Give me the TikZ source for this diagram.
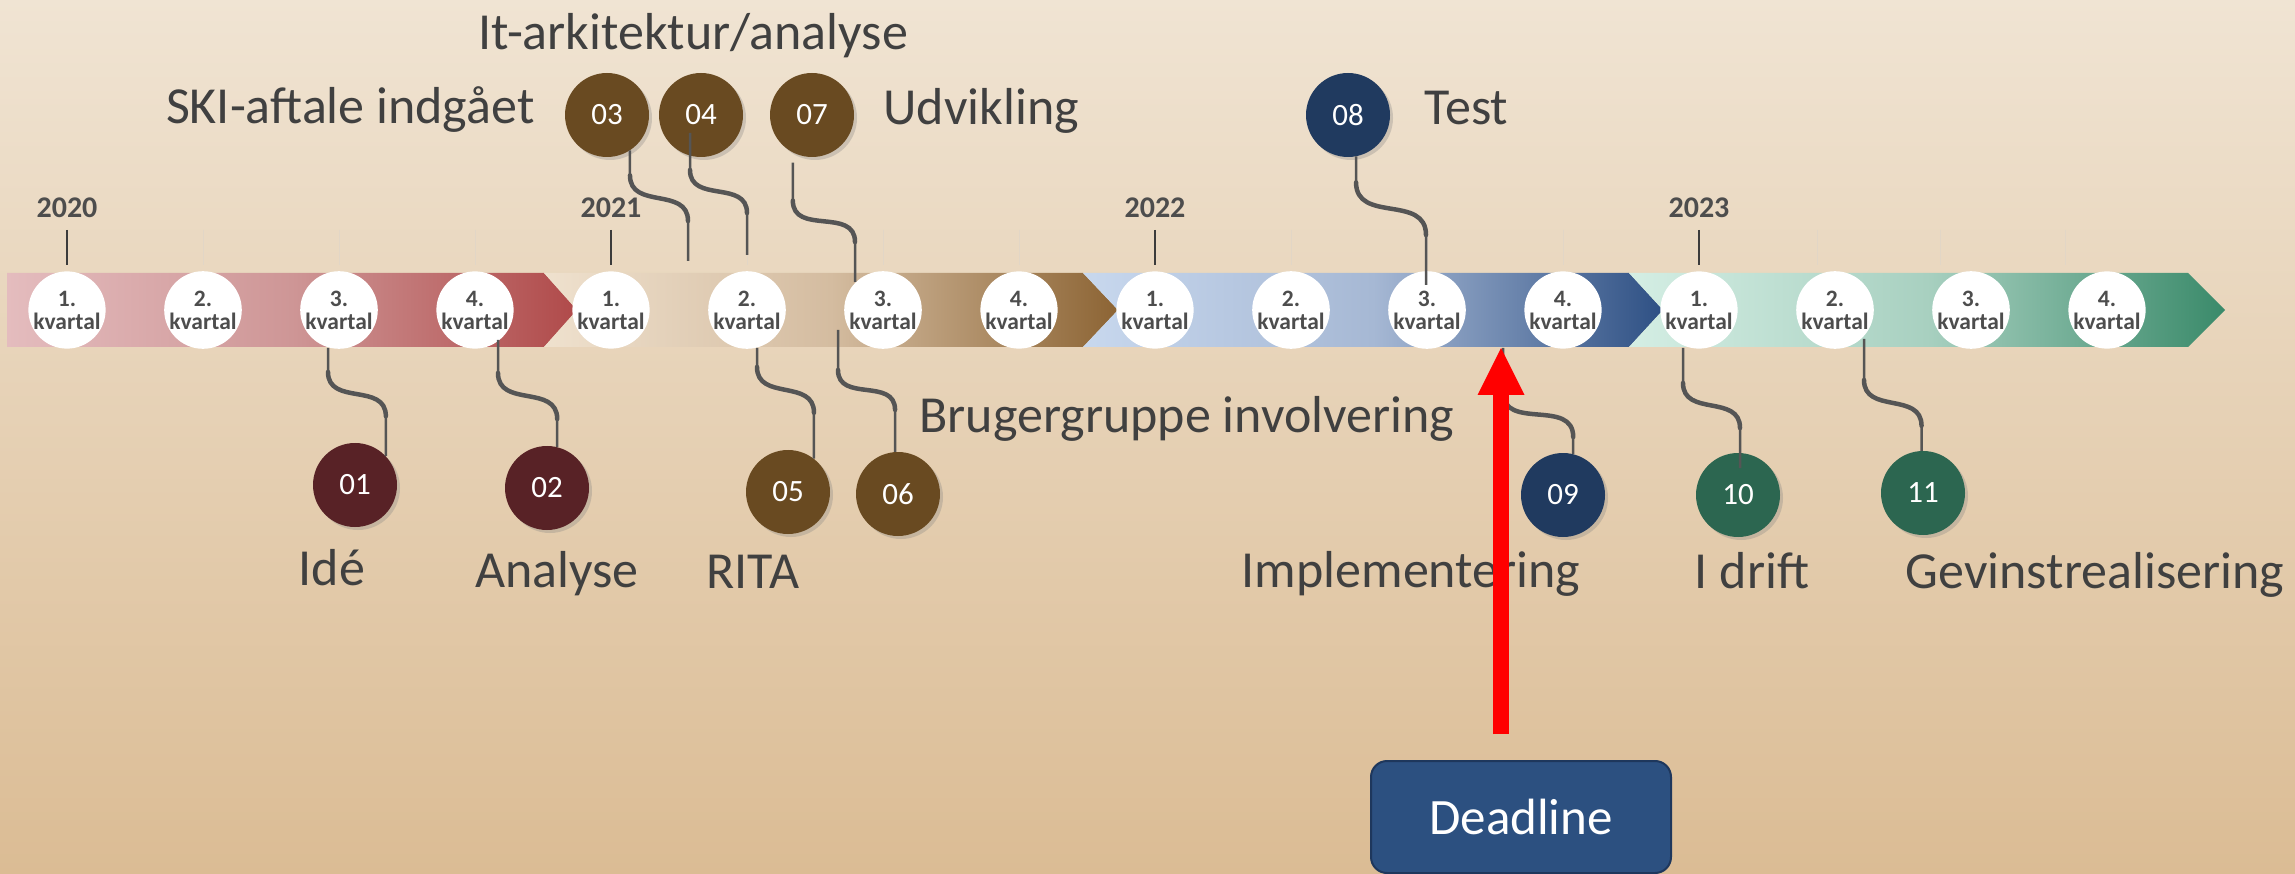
\documentclass[tikz,border=0pt]{standalone}
\usepackage{fontspec}
\setmainfont{Carlito}
\usetikzlibrary{positioning, shadows, arrows.meta}

\definecolor{bgtop}{RGB}{240,228,211}
\definecolor{bgbot}{RGB}{219,188,148}
\definecolor{rosel}{RGB}{228,188,190}
\definecolor{rosem}{RGB}{206,150,150}
\definecolor{roser}{RGB}{176,74,74}
\definecolor{creml}{RGB}{239,225,206}
\definecolor{cremm}{RGB}{212,188,160}
\definecolor{cremr}{RGB}{140,100,52}
\definecolor{bluel}{RGB}{200,216,238}
\definecolor{bluem}{RGB}{166,184,212}
\definecolor{bluer}{RGB}{46,80,132}
\definecolor{mintl}{RGB}{212,238,228}
\definecolor{mintm}{RGB}{168,208,192}
\definecolor{mintr}{RGB}{58,138,106}
\definecolor{maroon}{RGB}{88,34,38}
\definecolor{umber}{RGB}{105,74,33}
\definecolor{navy}{RGB}{32,58,95}
\definecolor{pine}{RGB}{44,102,80}
\definecolor{qgray}{RGB}{77,77,77}
\definecolor{lgray}{RGB}{64,64,64}
\definecolor{sgray}{RGB}{85,85,85}
\definecolor{tgray}{RGB}{60,60,60}
\definecolor{ftick}{RGB}{226,214,198}
\definecolor{dlblue}{RGB}{44,80,128}
\definecolor{dlrim}{RGB}{30,55,92}

\begin{document}
\begin{tikzpicture}[x=1pt, y=1pt, node distance=136pt,
  kvartal/.style={circle, fill=white, minimum size=72pt, inner sep=0pt, align=center, text=qgray, font=\fontsize{23.5}{23}\selectfont\bfseries},
  year/.style={text=qgray, font=\fontsize{30}{32}\selectfont\bfseries},
  milestone/.style={circle, minimum size=84pt, inner sep=0pt, text=white, font=\fontsize{31}{33}\selectfont, drop shadow={shadow xshift=3pt, shadow yshift=-3pt, opacity=.3}},
  phase/.style={text=lgray, font=\fontsize{52}{56}\selectfont},
  stem/.style={draw=sgray, line width=2.5pt},
  wiggle/.style={draw=sgray, line width=4.5pt, line cap=round},
  sbend/.style={out=-90, in=90, looseness=1.2},
  yeartick/.style={draw=tgray, line width=2.5pt},
  faint/.style={draw=ftick, line width=1pt},
  alarm/.style={draw=red, line width=16pt, -{Triangle[width=47pt, length=47pt, line width=0pt]}},
  deadline/.style={rectangle, rounded corners=16pt, fill=dlblue, draw=dlrim, line width=2pt, minimum width=300pt, minimum height=112pt, text=white, font=\fontsize{51}{55}\selectfont}]
  \useasboundingbox (0,0) rectangle (2295,-874);
  \shade[top color=bgtop, bottom color=bgbot] (0,0) rectangle (2295,-874);

  % the four years as arrows
  \shade[left color=rosel, right color=roser, middle color=rosem] (7,-273) -- (544,-273) -- (577,-310) -- (544,-347) -- (7,-347) -- cycle;
  \shade[left color=creml, right color=cremr, middle color=cremm] (544,-273) -- (1083,-273) -- (1118,-310) -- (1083,-347) -- (544,-347) -- (577,-310) -- cycle;
  \shade[left color=bluel, right color=bluer, middle color=bluem] (1083,-273) -- (1629,-273) -- (1663,-310) -- (1629,-347) -- (1083,-347) -- (1118,-310) -- cycle;
  \shade[left color=mintl, right color=mintr, middle color=mintm] (1629,-273) -- (2188,-273) -- (2225,-310) -- (2188,-347) -- (1629,-347) -- (1663,-310) -- cycle;

  \node[kvartal] (k1) at (67,-310) {1.\\kvartal};
  \node[kvartal] (k2) [right of=k1] {2.\\kvartal};
  \node[kvartal] (k3) [right of=k2] {3.\\kvartal};
  \node[kvartal] (k4) [right of=k3] {4.\\kvartal};
  \node[kvartal] (k5) [right of=k4] {1.\\kvartal};
  \node[kvartal] (k6) [right of=k5] {2.\\kvartal};
  \node[kvartal] (k7) [right of=k6] {3.\\kvartal};
  \node[kvartal] (k8) [right of=k7] {4.\\kvartal};
  \node[kvartal] (k9) [right of=k8] {1.\\kvartal};
  \node[kvartal] (k10) [right of=k9] {2.\\kvartal};
  \node[kvartal] (k11) [right of=k10] {3.\\kvartal};
  \node[kvartal] (k12) [right of=k11] {4.\\kvartal};
  \node[kvartal] (k13) [right of=k12] {1.\\kvartal};
  \node[kvartal] (k14) [right of=k13] {2.\\kvartal};
  \node[kvartal] (k15) [right of=k14] {3.\\kvartal};
  \node[kvartal] (k16) [right of=k15] {4.\\kvartal};

  \node[year] (y20) at (k1 |- 0,-208) {2020};
  \node[year] (y21) at (k5 |- 0,-208) {2021};
  \node[year] (y22) at (k9 |- 0,-208) {2022};
  \node[year] (y23) at (k13 |- 0,-208) {2023};
  \draw[yeartick] (k1 |- 0,-230) -- (k1 |- 0,-265) (k5 |- 0,-230) -- (k5 |- 0,-265)
    (k9 |- 0,-230) -- (k9 |- 0,-265) (k13 |- 0,-230) -- (k13 |- 0,-265);
  \draw[faint] (k2 |- 0,-230) -- (k2 |- 0,-265) (k3 |- 0,-230) -- (k3 |- 0,-265)
    (k4 |- 0,-230) -- (k4 |- 0,-265) (k6 |- 0,-230) -- (k6 |- 0,-265)
    (k7 |- 0,-230) -- (k7 |- 0,-265) (k8 |- 0,-230) -- (k8 |- 0,-265)
    (k10 |- 0,-230) -- (k10 |- 0,-265) (k11 |- 0,-230) -- (k11 |- 0,-265)
    (k12 |- 0,-230) -- (k12 |- 0,-265) (1817,-230) -- (1817,-265)
    (1940,-230) -- (1940,-265) (2065,-230) -- (2065,-265);

  % milestones
  \node[milestone, fill=maroon] (m01) at (355,-485) {01};
  \node[milestone, fill=maroon] (m02) at (547,-488) {02};
  \node[milestone, fill=umber] (m03) at (607,-115) {03};
  \node[milestone, fill=umber] (m04) at (701,-115) {04};
  \node[milestone, fill=umber] (m05) at (788,-492) {05};
  \node[milestone, fill=umber] (m06) at (898,-494) {06};
  \node[milestone, fill=umber] (m07) at (812,-115) {07};
  \node[milestone, fill=navy] (m08) at (1348,-115) {08};
  \node[milestone, fill=navy] (m09) at (1563,-495) {09};
  \node[milestone, fill=pine] (m10) at (1738,-495) {10};
  \node[milestone, fill=pine] (m11) at (1923,-493) {11};

  \node[phase, anchor=base] (itark) at (693,-50) {It-arkitektur/analyse};
  \node[phase, anchor=base east] (ski) at (538,-124) {SKI-aftale indgået};
  \node[phase, anchor=base west] (udv) at (880,-125) {Udvikling};
  \node[phase, anchor=base west] (test) at (1421,-125) {Test};
  \node[phase, anchor=base] (ide) at (332,-585) {Idé};
  \node[phase, anchor=base] (ana) at (557,-587) {Analyse};
  \node[phase, anchor=base] (rita) at (753,-588) {RITA};
  \node[phase, anchor=base west] (bruger) at (916,-433) {Brugergruppe involvering};
  \node[phase, anchor=base] (impl) at (1411,-587) {Implementering};
  \node[phase, anchor=base] (drift) at (1752,-588) {I drift};
  \node[phase, anchor=base] (gevinst) at (2095,-588) {Gevinstrealisering};

  % stems above the band
  \coordinate (t03) at (688,-261);
  \coordinate (t04) at (747,-255);
  \coordinate (t07) at (855,-282);
  \coordinate (t08) at (1426,-285);
  \draw[stem] (m03.-57) -- ++(0,-25) coordinate (s03) to[sbend] ([yshift=40pt]t03) -- (t03);
  \draw[wiggle] (s03) to[sbend] ([yshift=40pt]t03);
  \draw[stem] ([shift={(-11,-18)}]m04.center) -- ++(0,-37) coordinate (s04) to[sbend] ([yshift=42pt]t04) -- (t04);
  \draw[wiggle] (s04) to[sbend] ([yshift=42pt]t04);
  \draw[stem] ([yshift=-10pt]m07.-117) -- ++(0,-38) coordinate (s07) to[sbend] ([yshift=40pt]t07) -- (t07);
  \draw[wiggle] (s07) to[sbend] ([yshift=40pt]t07);
  \draw[stem] (m08.-79) -- ++(0,-26) coordinate (s08) to[sbend] ([yshift=50pt]t08) -- (t08);
  \draw[wiggle] (s08) to[sbend] ([yshift=50pt]t08);

  % stems below the band
  \coordinate (b01) at (328,-348);
  \coordinate (b02) at (498,-340);
  \coordinate (b05) at (757,-348);
  \coordinate (b06) at (838,-330);
  \coordinate (b09) at (1503,-348);
  \coordinate (b10) at (1683,-348);
  \coordinate (b11) at (1864,-339);
  \draw[stem] (b01) -- ++(0,-24) coordinate (s01) to[sbend] ([yshift=40pt]m01.43) -- (m01.43);
  \draw[wiggle] (s01) to[sbend] ([yshift=40pt]m01.43);
  \draw[stem] (b02) -- ++(0,-33) coordinate (s02) to[sbend] ([yshift=28pt]m02.76) -- (m02.76);
  \draw[wiggle] (s02) to[sbend] ([yshift=28pt]m02.76);
  \draw[stem] (b05) -- ++(0,-19) coordinate (s05) to[sbend] ([yshift=46pt]m05.52) -- (m05.52);
  \draw[wiggle] (s05) to[sbend] ([yshift=46pt]m05.52);
  \draw[stem] (b06) -- ++(0,-40) coordinate (s06) to[sbend] ([yshift=42pt]m06.94) -- (m06.94);
  \draw[wiggle] (s06) to[sbend] ([yshift=42pt]m06.94);
  \draw[stem] (b09) -- ++(0,-44) coordinate (s09) to[sbend] ([yshift=17pt]m09.76) -- (m09.76);
  \draw[wiggle] (s09) to[sbend] ([yshift=17pt]m09.76);
  \draw[stem] (b10) -- ++(0,-35) coordinate (s10) to[sbend] ([shift={(2,67)}]m10.center) -- ([shift={(2,27)}]m10.center);
  \draw[wiggle] (s10) to[sbend] ([shift={(2,67)}]m10.center);
  \draw[stem] (b11) -- ++(0,-41) coordinate (s11) to[sbend] ([yshift=25pt]m11.92) -- (m11.92);
  \draw[wiggle] (s11) to[sbend] ([yshift=25pt]m11.92);

  % deadline
  \node[deadline] (dl) at (1521,-817) {Deadline};
  \coordinate (tip) at (1501,-348);
  \draw[alarm, shorten <=26pt] (dl.north -| tip) -- (tip);
\end{tikzpicture}
\end{document}
